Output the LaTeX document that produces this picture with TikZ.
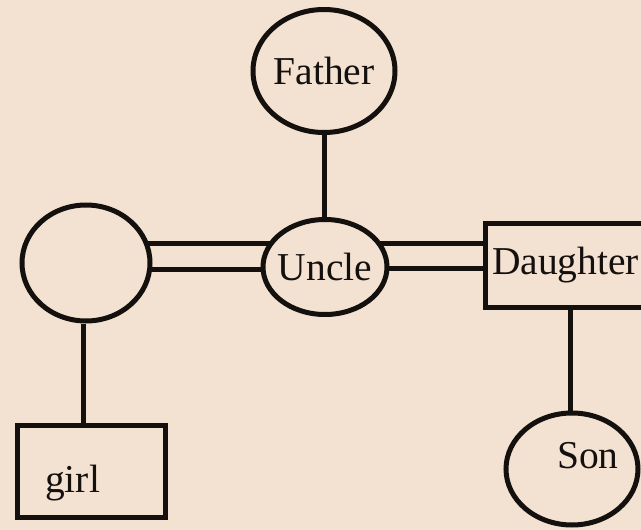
\documentclass[tikz,border=0pt]{standalone}
\usepackage{fontspec}
\setmainfont{Liberation Serif}
\usetikzlibrary{shapes.geometric}
\definecolor{paper}{RGB}{243,226,209}
\definecolor{ink}{RGB}{20,16,14}
\pgfdeclarelayer{paperlayer}
\pgfdeclarelayer{links}
\pgfsetlayers{paperlayer,links,main}
\tikzset{
  person/.style={ellipse, draw=ink, line width=5pt, fill=paper, inner ysep=0pt, inner xsep=-6pt},
  box/.style={rectangle, draw=ink, line width=5pt, fill=paper, inner sep=0pt},
  link/.style={draw=ink, line width=5pt},
  kin/.style={text=ink, font=\fontsize{39.5}{42}\selectfont}
}
\begin{document}
\begin{tikzpicture}[x=1pt, y=-1pt]
        \begin{pgfonlayer}{paperlayer}
          \fill[paper] (0,0) rectangle (641,530);
        \end{pgfonlayer}
        \useasboundingbox (0,0) rectangle (641,530);
        \node[person, minimum width=142pt, minimum height=123pt, kin] (father) at (324,71) {Father};
        \node[person, minimum width=128pt, minimum height=116pt] (mother) at (86,263) {};
        \node[person, minimum width=124pt, minimum height=95pt, kin] (uncle) at (325,267) {Uncle};
        \node[box, minimum width=161pt, minimum height=84pt, kin] (daughter) at (565.5,265) {Daughter};
        \node[person, minimum width=132pt, minimum height=112pt] (son) at (572,469) {};
        \node[kin, inner sep=0pt] (sonlabel) at (588,456) {Son};
        \node[box, minimum width=148pt, minimum height=92pt] (girl) at (91,471) {};
        \node[kin, inner sep=0pt, anchor=base west] (girllabel) at (45,492) {girl};
        \begin{pgfonlayer}{links}
          \draw[link] (father.south) -- (father.south |- uncle.north);
          \draw[link] ([yshift=20pt]mother.center) -- ([yshift=20pt]mother.center -| uncle.center);
          \draw[link] ([yshift=-6pt]mother.center) -- ([yshift=-6pt]mother.center -| uncle.center);
          \draw[link] ([yshift=24pt]uncle.center) -- ([yshift=24pt]uncle.center -| daughter.center);
          \draw[link] ([yshift=-1pt]uncle.center) -- ([yshift=-1pt]uncle.center -| daughter.center);
          \draw[link] ([xshift=-3pt]mother.south) -- ([xshift=-3pt]mother.south |- girl.north);
          \draw[link] ([xshift=-2pt]son.north) -- ([xshift=-2pt]son.north |- daughter.south);
        \end{pgfonlayer}
      \end{tikzpicture}
\end{document}
